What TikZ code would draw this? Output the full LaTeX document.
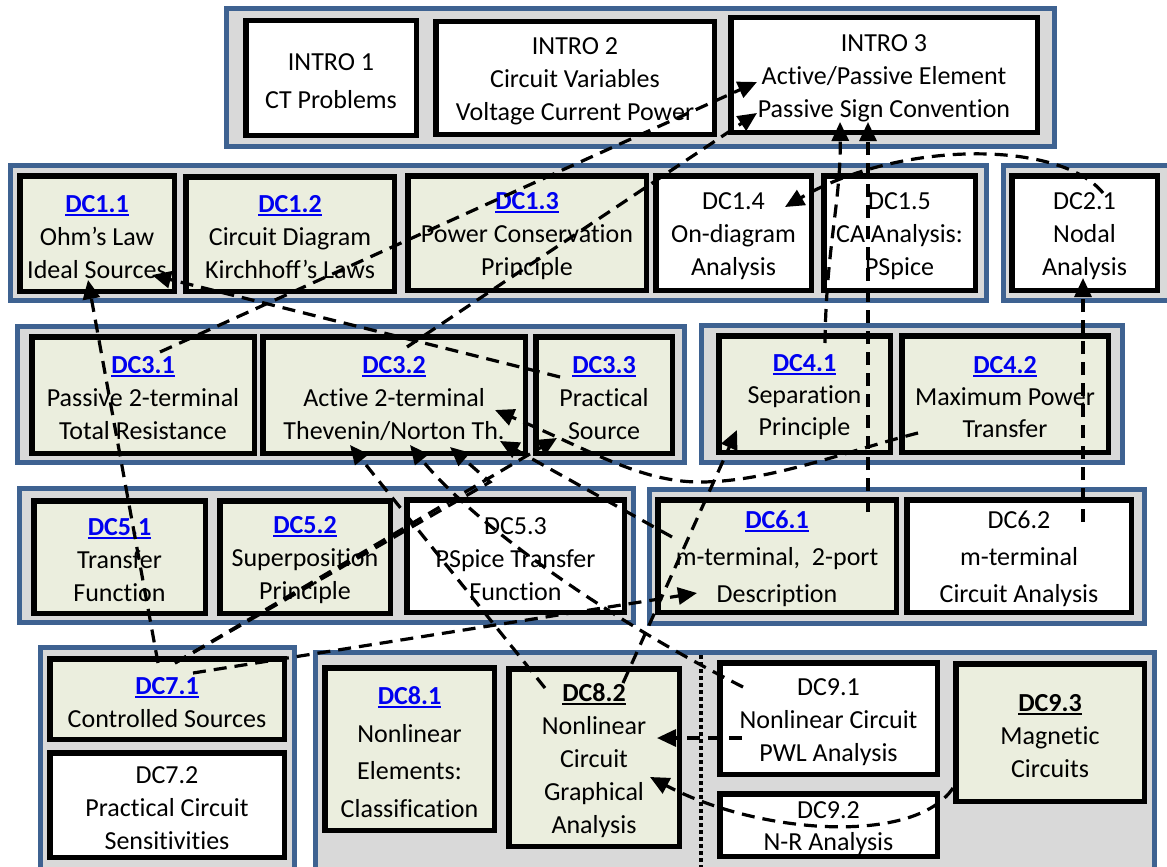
\documentclass[tikz,border=0pt]{standalone}
\usepackage{fontspec}
\setmainfont[Ligatures=NoCommon]{Carlito}
\usetikzlibrary{arrows.meta}
\definecolor{grpblue}{RGB}{62,98,145}
\definecolor{grpgrey}{RGB}{217,217,217}
\definecolor{boxgreen}{RGB}{235,238,222}
\definecolor{lblue}{RGB}{0,0,240}
\newcommand\ulb[1]{\setbox0\hbox{\bfseries #1}\rlap{\rule[-3.5pt]{\wd0}{2.2pt}}\box0}
\newcommand\bl[1]{\textcolor{lblue}{\ulb{#1}}}
\newcommand\bk[1]{\ulb{#1}}
\newcommand\strt{\rule{0pt}{24pt}}
\newcommand\bx[7]{\node[#6, minimum width={#4-#2-5.5}, minimum height={#5-#3-5.5}] (#1) at ({(#2+#4)/2},{(#3+#5)/2}) {\strt#7};}
\tikzset{
  grp/.style={draw=grpblue, line width=5.5pt, fill=grpgrey},
  gbox/.style={draw=black, line width=5.5pt, fill=boxgreen, inner sep=0pt, align=center,
    font=\fontsize{26}{33}\selectfont},
  wbox/.style={gbox, fill=white},
  conn/.style={draw=black, line width=3.2pt, dash pattern=on 13pt off 8pt,
    -{Triangle[length=19pt,width=17pt]}}
}
\begin{document}
\begin{tikzpicture}[x=1pt,y=-1pt]
\useasboundingbox (0,0) rectangle (1167,867);
\clip (0,0) rectangle (1167,867);
% groups
\draw[grp] (226.5,8.5) rectangle (1054.5,146.5);
\draw[grp] (10.5,165.5) rectangle (986.5,300.5);
\draw[grp] (1003.5,165.5) rectangle (1175,300.5);
\draw[grp] (17.5,326.5) rectangle (684.5,462.5);
\draw[grp] (701.5,325.5) rectangle (1122.5,462.5);
\draw[grp] (19.5,488.5) rectangle (633.5,622.5);
\draw[grp] (649.5,489.5) rectangle (1144.5,623.5);
\draw[grp] (40.5,647.5) rectangle (294.5,880);
\draw[grp] (315.5,652.5) rectangle (1154.5,880);
% boxes
\bx{intro1}{243}{18}{419}{138}{wbox,font=\fontsize{26}{38}\selectfont}{INTRO 1\\CT Problems}
\bx{intro2}{433}{19}{717}{137}{wbox}{INTRO 2\\Circuit Variables\\Voltage Current Power}
\bx{intro3}{728}{15}{1040}{135}{wbox}{INTRO 3\\Active/Passive Element\\Passive Sign Convention}
\bx{dc11}{17}{173}{177}{294}{gbox}{\bl{DC1.1}\\Ohm’s Law\\Ideal Sources}
\bx{dc12}{183}{174}{397}{294}{gbox}{\bl{DC1.2}\\Circuit Diagram\\Kirchhoff’s Laws}
\bx{dc13}{405}{173}{649}{293}{gbox}{\bl{DC1.3}\\Power Conservation\\Principle}
\bx{dc14}{653}{173}{814}{293}{wbox}{DC1.4\\On-diagram\\Analysis}
\bx{dc15}{821}{173}{978}{293}{wbox}{DC1.5\\CA Analysis:\\PSpice}
\bx{dc21}{1009}{173}{1160}{293}{wbox}{DC2.1\\Nodal\\Analysis}
\bx{dc31}{29}{334}{257}{456}{gbox}{\bl{DC3.1}\\Passive 2-terminal\\Total Resistance}
\bx{dc32}{260}{334}{528}{456}{gbox}{\bl{DC3.2}\\Active 2-terminal\\Thevenin/Norton Th.}
\bx{dc33}{533}{334}{675}{456}{gbox}{\bl{DC3.3}\\Practical\\Source}
\bx{dc41}{716}{333}{893}{455}{gbox,font=\fontsize{26}{32}\selectfont}{\bl{DC4.1}\\Separation\\Principle}
\bx{dc42}{899}{333}{1111}{455}{gbox,font=\fontsize{26}{32}\selectfont}{\bl{DC4.2}\\Maximum Power\\Transfer}
\bx{dc51}{31}{498}{208}{616}{gbox}{\bl{DC5.1}\\Transfer\\Function}
\bx{dc52}{217}{498}{393}{616}{gbox}{\bl{DC5.2}\\Superposition\\Principle}
\bx{dc53}{404}{497}{627}{615}{wbox}{DC5.3\\PSpice Transfer\\Function}
\bx{dc61}{655}{497}{899}{615}{gbox,font=\fontsize{26}{37}\selectfont}{\bl{DC6.1}\\m-terminal,\ \ 2-port\\Description}
\bx{dc62}{904}{497}{1134}{615}{wbox,font=\fontsize{26}{37}\selectfont}{DC6.2\\m-terminal\\Circuit Analysis}
\bx{dc71}{47}{656}{287}{742}{gbox}{\bl{DC7.1}\\Controlled Sources}
\bx{dc72}{47}{750}{287}{860}{wbox}{DC7.2\\Practical Circuit\\Sensitivities}
\bx{dc81}{322}{665}{497}{833}{gbox,font=\fontsize{26}{37.5}\selectfont}{\bl{DC8.1}\\Nonlinear\\Elements:\\Classification}
\bx{dc82}{506}{666}{682}{849}{gbox}{\bk{DC8.2}\\Nonlinear\\Circuit\\Graphical\\Analysis}
\bx{dc91}{717}{660}{940}{777}{wbox}{DC9.1\\Nonlinear Circuit\\PWL Analysis}
\bx{dc92}{717}{791}{940}{859}{wbox,font=\fontsize{26}{32}\selectfont}{DC9.2\\N-R Analysis}
\bx{dc93}{953}{661}{1147}{804}{gbox}{\bk{DC9.3}\\Magnetic\\Circuits}
% dotted separator
\draw[line width=3.5pt, dash pattern=on 3.5pt off 3.5pt] (701,655) -- (701,867);
% connectors
\draw[conn] ([shift={(17,-43)}]dc31.center) -- ([shift={(-127,7)}]intro3.center);
\draw[conn] ([shift={(13,-48)}]dc32.center) -- ([shift={(-127,38)}]intro3.center);
\draw[conn] ([shift={(20.5,-51)}]dc41.center) .. controls (826,250) and (841,200) .. ([shift={(-44,47)}]intro3.center);
\draw[conn] ([shift={(91,-44)}]dc61.center) -- ([shift={(-16,47)}]intro3.center);
\draw[conn] ([shift={(18.5,-40)}]dc21.center) .. controls (1060,140) and (900,140) .. ([shift={(51.5,-26)}]dc14.center);
\draw[conn] ([shift={(64,-34)}]dc62.center) -- ([shift={(-1.5,45)}]dc21.center);
\draw[conn] ([shift={(-9,-36)}]dc71.center) -- ([shift={(-9,46.5)}]dc11.center);
\draw[conn] ([shift={(-44,-18)}]dc33.center) -- ([shift={(55,41.5)}]dc11.center);
\draw[conn] ([shift={(-87,39)}]dc42.center) .. controls (850,450) and (770,482) .. (700,482) .. controls (640,482) and (590,450) .. ([shift={(101,15)}]dc32.center);
\draw[conn] ([shift={(-49,-69.5)}]dc82.center) -- ([shift={(-44,50)}]dc32.center);
\draw[conn] ([shift={(-85.5,-31.5)}]dc91.center) .. controls (600,615) and (470,520) .. ([shift={(16,50)}]dc32.center);
\draw[conn] ([shift={(-105,-19)}]dc61.center) -- ([shift={(106,46)}]dc32.center);
\draw[conn] ([shift={(29,-74.5)}]dc82.center) -- ([shift={(-67.5,36)}]dc41.center);
\draw[conn] ([shift={(26,-26)}]dc71.center) -- ([shift={(-80,37)}]dc61.center);
\draw[conn] ([shift={(8,-36)}]dc71.center) -- ([shift={(-47,43)}]dc33.center);
\draw[conn] ([shift={(8,-36)}]dc71.center) -- (490,482) -- ([shift={(56,52)}]dc32.center);
\draw[conn] ([shift={(-86.5,19.5)}]dc91.center) -- ([shift={(63,-19.5)}]dc82.center);
\draw[conn] ([shift={(-97,55.5)}]dc93.center) .. controls (915,845) and (760,835) .. ([shift={(56,19.5)}]dc82.center);
\end{tikzpicture}
\end{document}
